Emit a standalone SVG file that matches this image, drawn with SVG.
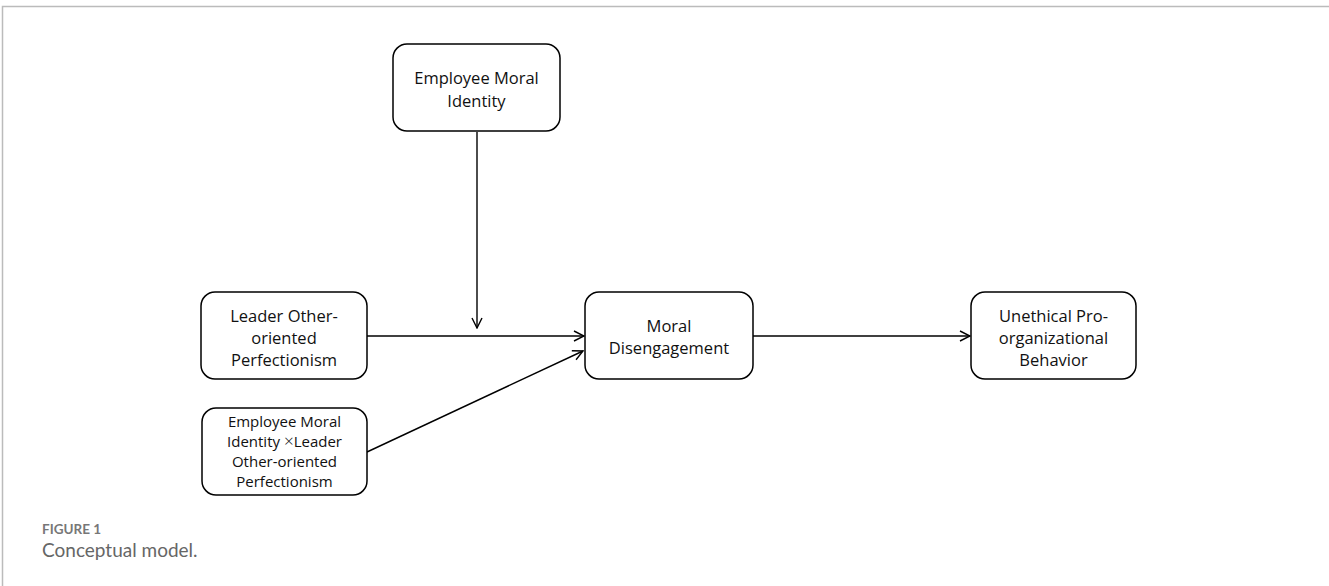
<svg xmlns="http://www.w3.org/2000/svg" width="1329" height="586" viewBox="0 0 1329 586">
<defs>
<marker id="arr" viewBox="0 0 12 12" refX="11" refY="6" markerWidth="12" markerHeight="12" markerUnits="userSpaceOnUse" orient="auto">
<path d="M1,1 L11,6 L1,11" fill="none" stroke="#000" stroke-width="1.4"/>
</marker>
<style>
.box{fill:#fff;stroke:#000;stroke-width:1.5}
.t{font-family:"Open Sans","Noto Sans","Liberation Sans",sans-serif;font-size:16.5px;fill:#111;text-anchor:middle}
.ts{font-family:"Open Sans","Noto Sans","Liberation Sans",sans-serif;font-size:15px;fill:#111;text-anchor:middle}
.x{font-size:17px;font-weight:300}
.c{fill:none;stroke:#000;stroke-width:1.4;marker-end:url(#arr)}
</style>
</defs>
<rect width="1329" height="586" fill="#fff"/>
<path d="M2.5,586 V6.5 H1329" fill="none" stroke="#bbb" stroke-width="1.5"/>
<g id="connectors">
<line class="c" x1="477" y1="132" x2="477" y2="328"/>
<line class="c" x1="367" y1="336" x2="584" y2="336"/>
<line class="c" x1="367" y1="452" x2="583" y2="351"/>
<line class="c" x1="753" y1="336" x2="970" y2="336"/>
</g>
<g id="node-moral-identity">
<rect class="box" x="393" y="44" width="167" height="87" rx="14"/>
<text class="t" x="476.5" y="84">Employee Moral</text>
<text class="t" x="476.5" y="107">Identity</text>
</g>
<g id="node-leader">
<rect class="box" x="201" y="292" width="166" height="87" rx="14"/>
<text class="t" x="284" y="322">Leader Other-</text>
<text class="t" x="284" y="344">oriented</text>
<text class="t" x="284" y="366">Perfectionism</text>
</g>
<g id="node-interaction">
<rect class="box" x="202" y="408" width="165" height="87" rx="14"/>
<text class="ts" x="284.5" y="427">Employee Moral</text>
<text class="ts" x="284.5" y="447">Identity <tspan class="x">×</tspan>Leader</text>
<text class="ts" x="284.5" y="467">Other-oriented</text>
<text class="ts" x="284.5" y="487">Perfectionism</text>
</g>
<g id="node-disengagement">
<rect class="box" x="585" y="292" width="168" height="87" rx="14"/>
<text class="t" x="669" y="332">Moral</text>
<text class="t" x="669" y="354">Disengagement</text>
</g>
<g id="node-upb">
<rect class="box" x="971" y="292" width="165" height="87" rx="14"/>
<text class="t" x="1053.5" y="322">Unethical Pro-</text>
<text class="t" x="1053.5" y="344">organizational</text>
<text class="t" x="1053.5" y="366">Behavior</text>
</g>
<g id="caption">
<text x="42" y="534" font-family="Lato,'Open Sans',sans-serif" font-size="13.5px" font-weight="bold" fill="#777">FIGURE 1</text>
<text x="42" y="557" font-family="Lato,'Open Sans',sans-serif" font-size="19px" fill="#666">Conceptual model.</text>
</g>
</svg>
